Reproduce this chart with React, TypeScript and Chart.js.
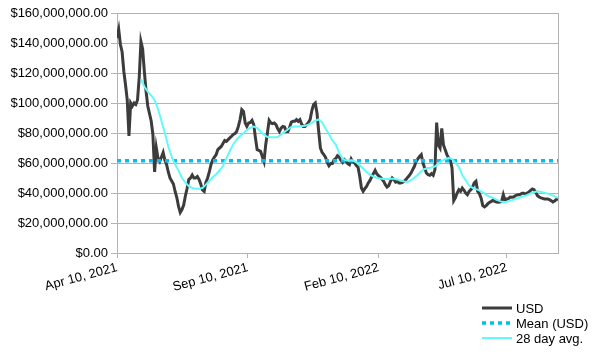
import { useEffect, useRef } from 'react';
import { Chart, registerables } from 'chart.js';

Chart.register(...registerables);

// ---- data ----
const START_DATE = '2021-04-10';
const SAMPLE_STEP_DAYS = 2;
// USD values (millions), one every 2 days from START_DATE
const usdMillions = [
  143.3, 149, 139, 134, 121, 112, 102, 78, 100, 98,
  100, 99, 102, 117, 141, 136, 121, 108, 98, 93,
  88, 79, 54, 70, 63, 61, 64, 67, 62, 59,
  54, 50, 48, 46, 41, 37, 31, 27, 29, 32,
  38, 43, 49, 50, 52, 50, 50, 51, 49, 46,
  42, 41, 47, 50, 54, 59, 62, 64, 65.5, 69,
  70, 71, 73, 75, 74.4, 75.6, 76.7, 77.8, 79, 79.6,
  81, 84.4, 89, 95.6, 94.4, 86.7, 84.4, 86.7, 87, 88.4,
  85.6, 76.7, 68.9, 68.4, 67.8, 64.4, 61, 72.2, 80, 88.4,
  86.7, 86.2, 86.7, 85.6, 82.9, 81, 83.3, 84.4, 84, 81,
  81, 83.8, 87.3, 87.8, 87.8, 88.9, 87.8, 88.9, 86, 84.4,
  84.4, 85.6, 87, 89, 95, 98.9, 100, 93.3, 81, 70,
  67, 65.6, 63.8, 60.4, 58.2, 59.6, 59.6, 62.2, 63, 64.9,
  64, 61.8, 60.4, 62.2, 61.1, 59.6, 58.9, 62.7, 60.7, 60,
  58.4, 57.3, 51.1, 43.3, 41.1, 42.9, 44.4, 46.7, 48.4, 50.7,
  52.9, 55.1, 52.7, 51.6, 50.7, 49.3, 47.8, 45.6, 44, 44.9,
  47.8, 50, 48.9, 47.3, 47.8, 46.7, 46.7, 47.1, 47.8, 48.9,
  50.4, 51.6, 53.3, 55.6, 57.8, 61.1, 62.7, 64.4, 65.6, 60,
  56.7, 53.3, 52.2, 51.8, 52.9, 51.8, 55.6, 87, 72, 70,
  83, 72, 68.9, 65.6, 63.3, 62.2, 56.7, 35, 37, 40,
  42.2, 41.1, 43.3, 41.8, 40, 38.9, 41.1, 42.2, 44, 46.7,
  47.8, 41.1, 39.6, 36.7, 31.6, 30.7, 31.6, 32.9, 33.8, 34.4,
  35.1, 34.4, 34, 33.8, 34, 34.4, 38.9, 35.1, 36, 36.2,
  37.3, 37.1, 37.3, 38.2, 38.7, 38.9, 39.1, 39.8, 39.8, 39.3,
  40, 40.7, 41.8, 42.7, 42.2, 40.4, 38.2, 37.3, 36.7, 36.4,
  36, 36, 36, 35.6, 34.9, 34, 34.7, 35.6, 36.2,
];

// 28 day average (millions), one every 4 days starting at day 28
const AVG_START_DAY = 28;
const AVG_STEP_DAYS = 4;
const avgMillions = [
  116, 111, 107.5, 105, 102, 96, 88, 80, 71, 64,
  59, 55, 50, 47, 44.5, 43.3, 42.9, 42.8, 43.3, 45.6,
  48, 50.5, 52.5, 55, 58, 63, 68, 72.5, 75.5, 78,
  80, 82, 83.5, 84.3, 83.5, 81, 78.9, 77.3, 77.1, 77.1,
  77.3, 79, 80.8, 82.3, 84, 84.4, 84.4, 84.6, 84.9, 85.6,
  86.8, 88.2, 89, 87, 83, 79.3, 75, 72.3, 66.7, 62.9,
  61.6, 61.6, 61.6, 60.5, 58.5, 56.4, 54, 52.2, 51, 50.2,
  49.6, 49.3, 49.3, 49.5, 49.5, 49, 48.3, 47.7, 47.3, 48.5,
  50.2, 52.2, 54.5, 56, 56.7, 57, 57.6, 59.6, 61.5, 62.6,
  63.3, 62.6, 60, 57.5, 52, 48.5, 45, 43.5, 42.6, 41.8,
  40.5, 38.8, 37.6, 36.7, 35.6, 34.6, 33.8, 34.2, 34.9, 35.6,
  36.4, 37.2, 37.9, 38.7, 39.7, 40.5, 41.1, 40.7, 40.2, 39.6,
  38.8, 37.8, 36.7,
];

const meanUsdMillions = 61.5;

const tickDates = ['2021-04-10', '2021-09-10', '2022-02-10', '2022-07-10'];
const tickLabels = ['Apr 10, 2021', 'Sep 10, 2021', 'Feb 10, 2022', 'Jul 10, 2022'];

const Y_MAX_MILLIONS = 160;
const Y_STEP_MILLIONS = 20;

const seriesLabels = ['USD', 'Mean (USD)', '28 day avg.'];

// ---- helpers ----
const DAY_MS = 86400000;
const dayOffset = (d: string) => (Date.parse(d) - Date.parse(START_DATE)) / DAY_MS;
const M = 1e6;

const FONT = "'Liberation Sans', Arial, sans-serif";
const GRID = '#b3b3b3';

const legendPlugin = {
  id: 'sideLegend',
  afterDraw(chart: any) {
    const ctx = chart.ctx as CanvasRenderingContext2D;
    const x0 = chart.width - 122;
    const lineLen = 30;
    const rowH = 15;
    const y0 = chart.height - 46;
    chart.data.datasets.forEach((ds: any, i: number) => {
      const y = y0 + i * rowH;
      ctx.save();
      ctx.strokeStyle = ds.borderColor;
      ctx.lineWidth = ds.legendWidth || ds.borderWidth;
      ctx.setLineDash(ds.borderDash || []);
      ctx.beginPath();
      ctx.moveTo(x0, y);
      ctx.lineTo(x0 + lineLen, y);
      ctx.stroke();
      ctx.setLineDash([]);
      ctx.fillStyle = '#000';
      ctx.font = `13px ${FONT}`;
      ctx.textBaseline = 'middle';
      ctx.textAlign = 'left';
      ctx.fillText(ds.label, x0 + lineLen + 4, y + 1);
      ctx.restore();
    });
  },
};

const framePlugin = {
  id: 'frameRight',
  beforeDatasetsDraw(chart: any) {
    const { ctx, chartArea } = chart;
    ctx.save();
    ctx.strokeStyle = GRID;
    ctx.lineWidth = 1;
    ctx.beginPath();
    const x = Math.round(chartArea.right) + 0.5;
    ctx.moveTo(x, chartArea.top);
    ctx.lineTo(x, chartArea.bottom);
    ctx.stroke();
    ctx.restore();
  },
};

export default function App() {
  const ref = useRef<HTMLCanvasElement | null>(null);

  useEffect(() => {
    if (!ref.current) return;
    const lastDay = (usdMillions.length - 1) * SAMPLE_STEP_DAYS;
    const usdData = usdMillions.map((v, i) => ({ x: i * SAMPLE_STEP_DAYS, y: v * M }));
    const avgData = avgMillions.map((v, i) => ({ x: AVG_START_DAY + i * AVG_STEP_DAYS, y: v * M }));
    const meanData = [
      { x: 0, y: meanUsdMillions * M },
      { x: lastDay, y: meanUsdMillions * M },
    ];
    const tickDays = tickDates.map(dayOffset);

    Chart.defaults.font.family = FONT;
    Chart.defaults.font.size = 13;
    Chart.defaults.color = '#000';

    const chart = new Chart(ref.current, {
      type: 'line',
      data: {
        datasets: [
          {
            label: seriesLabels[0],
            data: usdData,
            borderColor: '#3c3c3c',
            borderWidth: 3,
            pointRadius: 0,
            order: 3,
          },
          {
            label: seriesLabels[1],
            data: meanData,
            borderColor: '#00bff0',
            borderWidth: 3.5,
            borderDash: [4, 4],
            pointRadius: 0,
            order: 2,
          },
          {
            label: seriesLabels[2],
            data: avgData,
            borderColor: '#62fafa',
            borderWidth: 2,
            pointRadius: 0,
            order: 1,
          },
        ] as any,
      },
      options: {
        animation: false,
        responsive: true,
        maintainAspectRatio: false,
        layout: { padding: { top: 13, right: 46, left: 0, bottom: 0 } },
        plugins: {
          legend: { display: false },
          tooltip: { enabled: false },
        },
        scales: {
          x: {
            type: 'linear',
            min: 0,
            max: lastDay,
            afterBuildTicks: (scale: any) => {
              scale.ticks = tickDays.map((v) => ({ value: v }));
            },
            afterFit: (scale: any) => {
              scale.height = 101;
            },
            ticks: {
              autoSkip: false,
              minRotation: 15,
              maxRotation: 15,
              padding: 2,
              color: '#000',
              callback: (_v: any, i: number) => tickLabels[i],
            },
            grid: { drawOnChartArea: false, tickLength: 5, color: GRID },
            border: { color: GRID },
          },
          y: {
            min: 0,
            max: Y_MAX_MILLIONS * M,
            afterFit: (scale: any) => {
              scale.width = 117;
            },
            ticks: {
              stepSize: Y_STEP_MILLIONS * M,
              padding: 3,
              color: '#000',
              callback: (v: any) =>
                '$' + Number(v).toLocaleString('en-US', { minimumFractionDigits: 2, maximumFractionDigits: 2 }),
            },
            grid: { color: GRID, tickLength: 6 },
            border: { color: GRID },
          },
        },
      } as any,
      plugins: [framePlugin, legendPlugin],
    });
    return () => chart.destroy();
  }, []);

  return (
    <div style={{ position: 'fixed', left: 0, top: 0, width: 604, height: 354, background: '#fff' }}>
      <canvas ref={ref} />
    </div>
  );
}
